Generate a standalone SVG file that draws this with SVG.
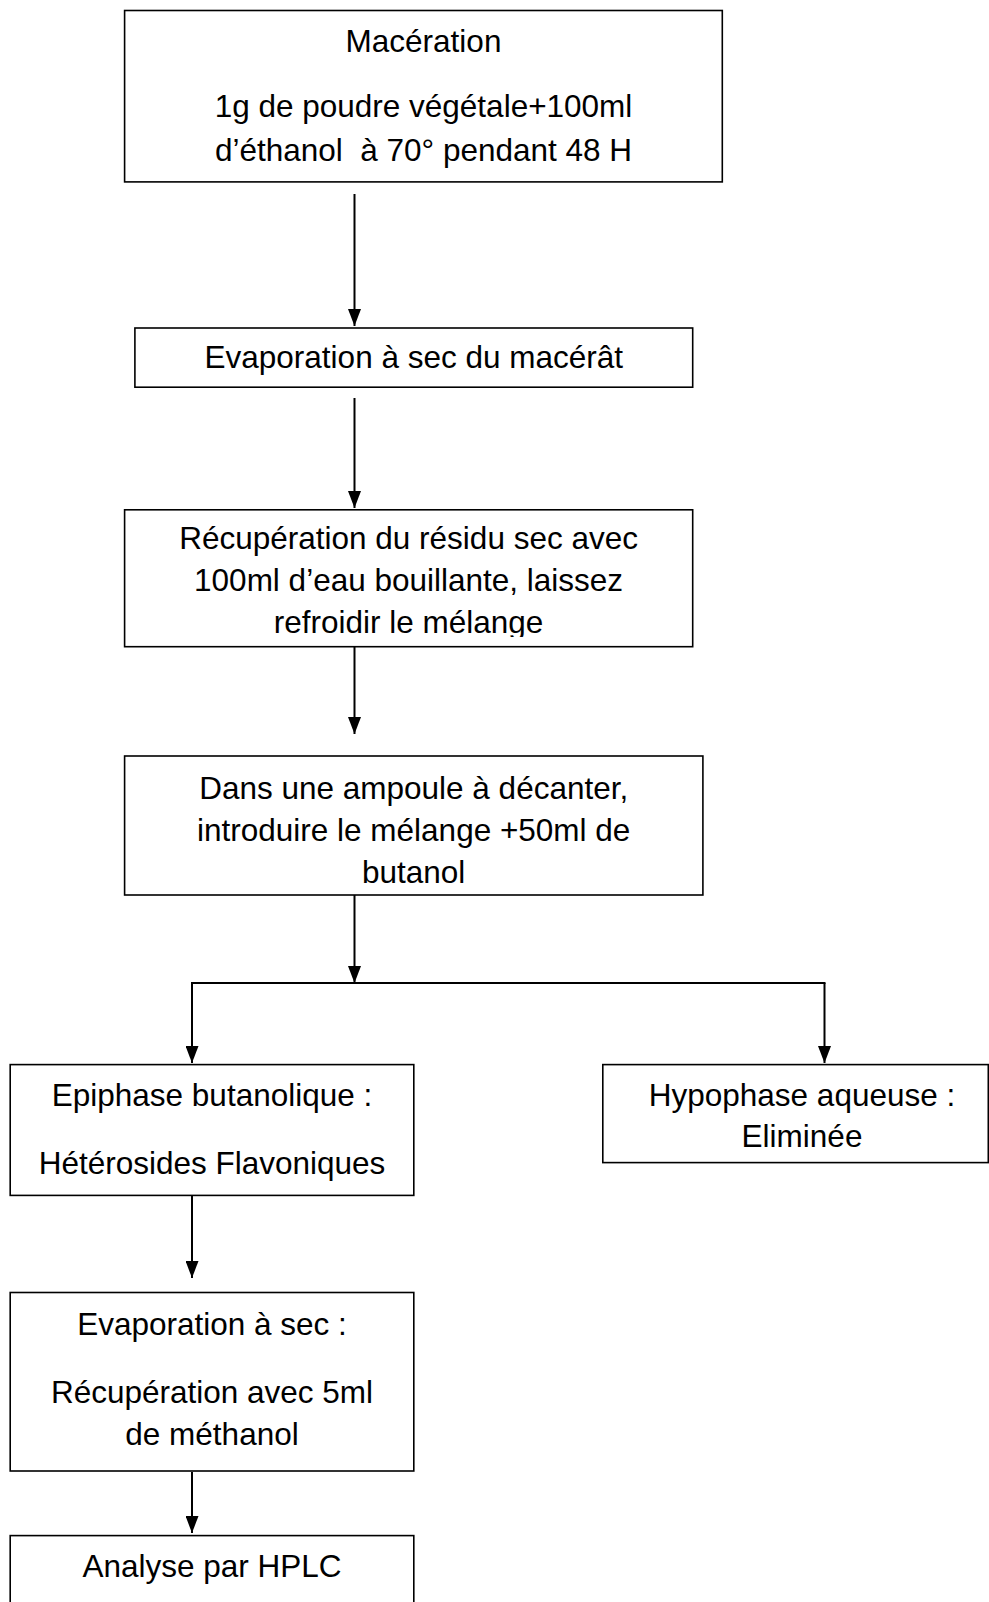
<svg xmlns="http://www.w3.org/2000/svg" width="989" height="1602" viewBox="0 0 989 1602">
<style>
.box{fill:#fff;stroke:#000;stroke-width:1.6}
.t{font-family:"Liberation Sans",Arial,sans-serif;font-size:31.5px;fill:#000;text-anchor:middle}
.c{fill:none;stroke:#000;stroke-width:2}
</style>
<defs>
<marker id="ah" viewBox="0 0 17 13" refX="17" refY="6.5" markerWidth="17" markerHeight="13" markerUnits="userSpaceOnUse" orient="auto">
<path d="M0,0 L17,6.5 L0,13 z" fill="#000"/>
</marker>
<clipPath id="clip3"><rect x="124" y="509" width="570" height="128"/></clipPath>
</defs>
<rect width="989" height="1602" fill="#fff"/>
<g id="connectors">
<line class="c" x1="354.5" y1="194" x2="354.5" y2="326" marker-end="url(#ah)"/>
<line class="c" x1="354.5" y1="398" x2="354.5" y2="508" marker-end="url(#ah)"/>
<line class="c" x1="354.5" y1="647" x2="354.5" y2="734" marker-end="url(#ah)"/>
<line class="c" x1="354.5" y1="895" x2="354.5" y2="983" marker-end="url(#ah)"/>
<line class="c" x1="191" y1="983" x2="825.5" y2="983"/>
<line class="c" x1="192" y1="983" x2="192" y2="1063" marker-end="url(#ah)"/>
<line class="c" x1="824.5" y1="983" x2="824.5" y2="1063" marker-end="url(#ah)"/>
<line class="c" x1="192" y1="1196" x2="192" y2="1278" marker-end="url(#ah)"/>
<line class="c" x1="192" y1="1472" x2="192" y2="1533" marker-end="url(#ah)"/>
</g>
<g id="n1">
<rect class="box" x="124.6" y="10.5" width="597.7" height="171.4"/>
<text class="t" x="423.5" y="52">Macération</text>
<text class="t" x="423.5" y="117">1g de poudre végétale+100ml</text>
<text class="t" x="423.5" y="161" xml:space="preserve">d’éthanol  à 70° pendant 48 H</text>
</g>
<g id="n2">
<rect class="box" x="134.9" y="328" width="557.8" height="59.2"/>
<text class="t" x="413.8" y="368">Evaporation à sec du macérât</text>
</g>
<g id="n3">
<rect class="box" x="124.6" y="509.8" width="568.1" height="136.9"/>
<g clip-path="url(#clip3)">
<text class="t" x="408.6" y="549">Récupération du résidu sec avec</text>
<text class="t" x="408.6" y="591">100ml d’eau bouillante, laissez</text>
<text class="t" x="408.6" y="633">refroidir le mélange</text>
</g>
</g>
<g id="n4">
<rect class="box" x="124.6" y="756" width="578.3" height="139"/>
<text class="t" x="413.7" y="799">Dans une ampoule à décanter,</text>
<text class="t" x="413.7" y="841">introduire le mélange +50ml de</text>
<text class="t" x="413.7" y="883">butanol</text>
</g>
<g id="n5">
<rect class="box" x="10.2" y="1064.6" width="403.6" height="130.8"/>
<text class="t" x="212" y="1106">Epiphase butanolique :</text>
<text class="t" x="212" y="1174">Hétérosides Flavoniques</text>
</g>
<g id="n6">
<rect class="box" x="602.8" y="1064.6" width="385.5" height="98"/>
<text class="t" x="802" y="1106">Hypophase aqueuse :</text>
<text class="t" x="802" y="1147">Eliminée</text>
</g>
<g id="n7">
<rect class="box" x="10.2" y="1292.5" width="403.6" height="178.5"/>
<text class="t" x="212" y="1335">Evaporation à sec :</text>
<text class="t" x="212" y="1403">Récupération avec 5ml</text>
<text class="t" x="212" y="1445">de méthanol</text>
</g>
<g id="n8">
<rect class="box" x="10.2" y="1535.6" width="403.6" height="80"/>
<text class="t" x="212" y="1577">Analyse par HPLC</text>
</g>
</svg>
